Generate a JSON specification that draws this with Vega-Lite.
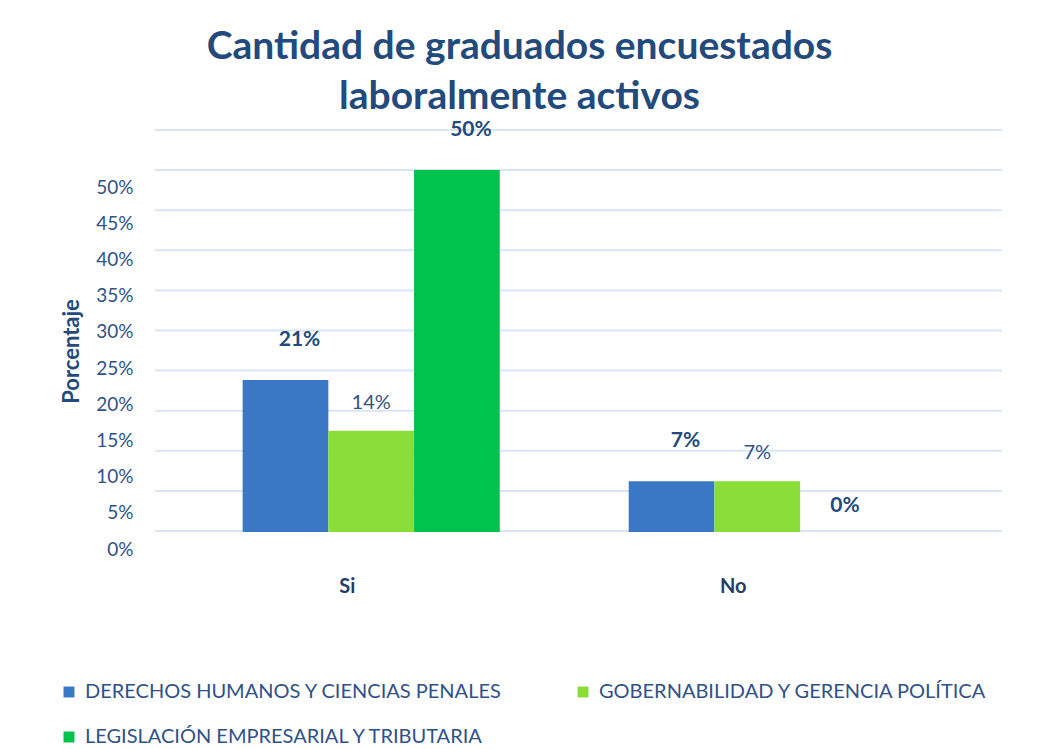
{
  "$schema": "https://vega.github.io/schema/vega-lite/v6.json",
  "width": 847,
  "height": 420,
  "autosize": {"type": "none"},
  "padding": {"left": 155, "top": 130, "right": 47, "bottom": 199},
  "background": "white",
  "config": {"view": {"stroke": null}, "font": "Lato"},
  "title": {
    "text": ["Cantidad de graduados encuestados", "laboralmente activos"],
    "anchor": "middle",
    "frame": "group",
    "dx": -59,
    "offset": 2,
    "fontSize": 39,
    "fontWeight": "bold",
    "font": "Lato",
    "color": "#234A7D",
    "lineHeight": 50
  },
  "datasets": {
    "grid": [
      {"v": 0}, {"v": 0.05}, {"v": 0.1}, {"v": 0.15}, {"v": 0.2}, {"v": 0.25},
      {"v": 0.3}, {"v": 0.35}, {"v": 0.4}, {"v": 0.45}, {"v": 0.5}
    ],
    "bars": [
      {"respuesta": "Si", "programa": "DERECHOS HUMANOS Y CIENCIAS PENALES", "valor": 0.21},
      {"respuesta": "Si", "programa": "GOBERNABILIDAD Y GERENCIA POLÍTICA", "valor": 0.14},
      {"respuesta": "Si", "programa": "LEGISLACIÓN EMPRESARIAL Y TRIBUTARIA", "valor": 0.50},
      {"respuesta": "No", "programa": "DERECHOS HUMANOS Y CIENCIAS PENALES", "valor": 0.07},
      {"respuesta": "No", "programa": "GOBERNABILIDAD Y GERENCIA POLÍTICA", "valor": 0.07},
      {"respuesta": "No", "programa": "LEGISLACIÓN EMPRESARIAL Y TRIBUTARIA", "valor": 0.0}
    ]
  },
  "layer": [
    {
      "data": {"name": "grid"},
      "mark": {"type": "rule", "color": "#D9E5F5", "strokeWidth": 2},
      "encoding": {
        "y": {"field": "v", "type": "quantitative", "scale": {"domain": [0, 0.5], "range": [401, 0]}, "axis": null}
      }
    },
    {
      "data": {"name": "bars"},
      "encoding": {
        "x": {
          "field": "respuesta", "type": "nominal", "sort": ["Si", "No"],
          "scale": {"paddingInner": 0.334, "paddingOuter": 0.264, "align": 0.43},
          "axis": {"title": null, "ticks": false, "domain": false, "labelAngle": 0, "labelPadding": 26, "labelOffset": -24, "labelFontSize": 20, "labelFontWeight": "bold", "labelColor": "#223E66", "labelFont": "Lato"}
        },
        "xOffset": {
          "field": "programa", "type": "nominal",
          "sort": ["DERECHOS HUMANOS Y CIENCIAS PENALES", "GOBERNABILIDAD Y GERENCIA POLÍTICA", "LEGISLACIÓN EMPRESARIAL Y TRIBUTARIA"],
          "scale": {"paddingInner": 0, "paddingOuter": 0}
        },
        "y": {
          "field": "valor", "type": "quantitative",
          "scale": {"domain": [0, 0.5], "range": [402, 40], "nice": false, "zero": true},
          "axis": {
            "values": [0, 0.05, 0.1, 0.15, 0.2, 0.25, 0.3, 0.35, 0.4, 0.45, 0.5],
            "format": ".0%", "grid": false, "ticks": false, "domain": false,
            "labelOffset": 17, "labelPadding": 22, "labelFontSize": 19, "labelColor": "#2F5288", "labelFont": "Lato",
            "title": "Porcentaje", "titleFontSize": 22, "titleFontWeight": "bold", "titleColor": "#234A7D", "titlePadding": 12, "titleFont": "Lato"
          }
        }
      },
      "layer": [
        {
          "mark": {"type": "bar"},
          "encoding": {
            "color": {
              "field": "programa", "type": "nominal",
              "sort": ["DERECHOS HUMANOS Y CIENCIAS PENALES", "GOBERNABILIDAD Y GERENCIA POLÍTICA", "LEGISLACIÓN EMPRESARIAL Y TRIBUTARIA"],
              "scale": {"range": ["#3A77C4", "#8BDD3A", "#00C24C"]},
              "legend": {
                "orient": "none", "legendX": -96, "legendY": 552, "direction": "horizontal", "columns": 2,
                "title": null, "symbolType": "square", "symbolSize": 120, "symbolStrokeWidth": 0,
                "labelFontSize": 20, "labelColor": "#2F5288", "labelFont": "Lato", "labelLimit": 700,
                "columnPadding": 70, "rowPadding": 25, "padding": 0, "labelOffset": 6
              }
            }
          }
        },
        {
          "transform": [{"filter": "datum.programa !== 'GOBERNABILIDAD Y GERENCIA POLÍTICA' && datum.valor > 0"}],
          "mark": {"type": "text", "dx": 14, "dy": -40, "fontSize": 21, "fontWeight": "bold", "color": "#234A7D", "font": "Lato"},
          "encoding": {"text": {"field": "valor", "type": "quantitative", "format": ".0%"}}
        },
        {
          "transform": [{"filter": "datum.valor === 0"}],
          "mark": {"type": "text", "dx": 2, "dy": -26, "fontSize": 21, "fontWeight": "bold", "color": "#234A7D", "font": "Lato"},
          "encoding": {"text": {"field": "valor", "type": "quantitative", "format": ".0%"}}
        },
        {
          "transform": [{"filter": "datum.programa === 'GOBERNABILIDAD Y GERENCIA POLÍTICA'"}],
          "mark": {"type": "text", "dx": 0, "dy": -28, "fontSize": 20, "color": "#2F5288", "font": "Lato"},
          "encoding": {"text": {"field": "valor", "type": "quantitative", "format": ".0%"}}
        }
      ]
    }
  ],
  "resolve": {"scale": {"y": "independent"}}
}
